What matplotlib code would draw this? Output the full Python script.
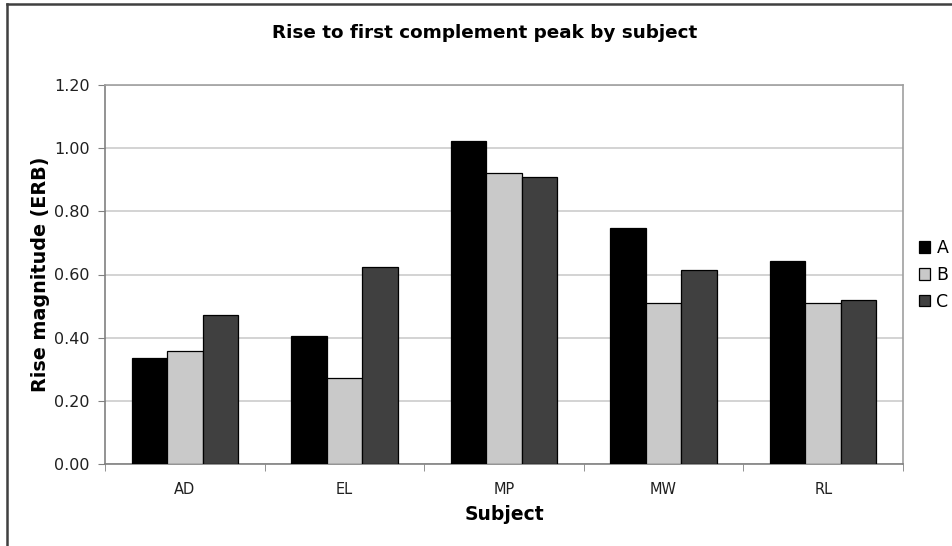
import numpy as np
import matplotlib
matplotlib.use("Agg")
import matplotlib.pyplot as plt
from matplotlib.lines import Line2D

subjects = ["AD", "EL", "MP", "MW", "RL"]
series = ["A", "B", "C"]
vals_a = [0.335, 0.405, 1.022, 0.748, 0.644]
vals_b = [0.359, 0.271, 0.922, 0.510, 0.511]
vals_c = [0.472, 0.623, 0.910, 0.614, 0.519]
colors = ["#000000", "#c9c9c9", "#404040"]

plt.rcParams['font.family'] = ['DejaVu Sans']

fig = plt.figure(figsize=(9.52, 5.46), dpi=100)
ax = fig.add_axes([105/952, 1 - 464/546, (903 - 105)/952, (464 - 85)/546])

x = np.arange(len(subjects))
w = 0.222
for i, (name, v) in enumerate(zip(series, [vals_a, vals_b, vals_c])):
  ax.bar(x + (i - 1)*w, v, width=w, color=colors[i], edgecolor="#000000",
         linewidth=0.9, label=name, zorder=3)

ax.set_xlim(-0.5, len(subjects) - 0.5)
ax.set_ylim(0, 1.2)
ax.set_yticks(np.arange(0, 1.21, 0.2))
ax.set_yticklabels(["%.2f" % t for t in np.arange(0, 1.21, 0.2)], fontsize=11.5,
                   color="#202020")
ax.set_xticks(x)
ax.set_xticklabels(subjects, fontsize=10.5, color="#202020")
ax.set_xticks(np.arange(-0.5, len(subjects)), minor=True)
ax.tick_params(axis="x", which="major", length=0, pad=13)
ax.tick_params(axis="x", which="minor", length=5, color="#808080", direction="out")
ax.tick_params(axis="y", length=5, color="#808080", direction="out", pad=6)
ax.grid(axis="y", color="#c8c8c8", linewidth=1.1, zorder=0)
for s in ax.spines.values():
  s.set_color("#a0a0a0")
  s.set_linewidth(1.2)
ax.spines["left"].set_color("#808080")
ax.spines["bottom"].set_color("#808080")

ax.set_ylabel("Rise magnitude (ERB)", fontsize=13.8, fontweight="bold", labelpad=3)
ax.set_xlabel("Subject", fontsize=13.5, fontweight="bold", labelpad=6)
fig.text(485/952, 1 - 33/546, "Rise to first complement peak by subject",
         ha="center", va="center", fontsize=13.2, fontweight="bold")

ax.legend(loc="center left", bbox_to_anchor=(919/952, 1 - 275/546),
          bbox_transform=fig.transFigure, frameon=False, fontsize=12.5,
          handlelength=0.65, handleheight=0.65, handletextpad=0.35,
          labelspacing=0.5, borderaxespad=0, borderpad=0)

# chart area border (top and left visible only)
fig.add_artist(Line2D([7/952, 7/952], [0, 1 - 4/546], transform=fig.transFigure,
                      color="#404040", linewidth=1.8))
fig.add_artist(Line2D([7/952, 1], [1 - 4/546, 1 - 4/546], transform=fig.transFigure,
                      color="#404040", linewidth=1.8))

fig.savefig("out.png", dpi=100)
